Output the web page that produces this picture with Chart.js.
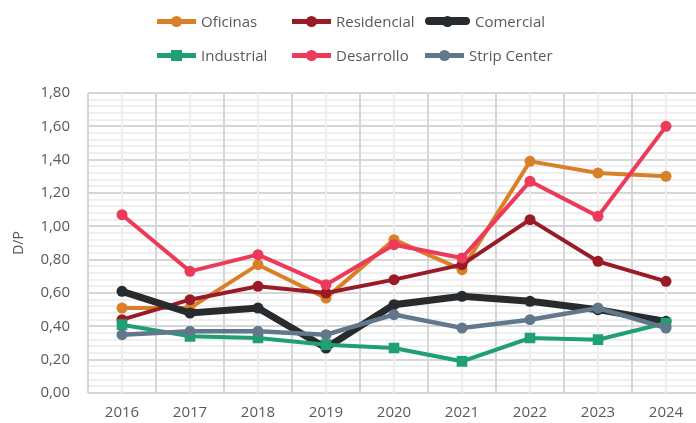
<!DOCTYPE html>
<html>
<head>
<meta charset="utf-8">
<script src="https://cdn.jsdelivr.net/npm/chart.js@4.4.1/dist/chart.umd.min.js"></script>
<style>
    html, body { margin: 0; padding: 0; background: #fff; overflow: hidden; }
    #wrap { position: relative; width: 696px; height: 423px; overflow: hidden; }
    #chart { position: absolute; left: 0; top: 0; }
    #legend { position: absolute; left: 0; top: 0; width: 696px; height: 80px; font-family: "Open Sans", sans-serif; font-size: 15px; color: #595959; }
    .item { position: absolute; display: flex; align-items: center; height: 20px; white-space: nowrap; }
    .sample { position: relative; width: 39px; height: 20px; margin-right: 5px; }
    .sample .ln { position: absolute; left: 0; right: 0; top: 8px; height: 5px; }
    .sample .dot { position: absolute; left: 14px; top: 5px; width: 11px; height: 11px; border-radius: 50%; }
</style>
</head>
<body>
<div id="wrap">
    <canvas id="chart" width="720" height="423"></canvas>
    <div id="legend"></div>
</div>
<script>
const years = ['2016', '2017', '2018', '2019', '2020', '2021', '2022', '2023', '2024'];
const oficinas    = [0.51, 0.51, 0.77, 0.57, 0.92, 0.74, 1.39, 1.32, 1.30];
const residencial = [0.44, 0.56, 0.64, 0.60, 0.68, 0.77, 1.04, 0.79, 0.67];
const comercial   = [0.61, 0.48, 0.51, 0.27, 0.53, 0.58, 0.55, 0.50, 0.43];
const industrial  = [0.41, 0.34, 0.33, 0.29, 0.27, 0.19, 0.33, 0.32, 0.42];
const desarrollo  = [1.07, 0.73, 0.83, 0.65, 0.89, 0.81, 1.27, 1.06, 1.60];
const stripCenter = [0.35, 0.37, 0.37, 0.35, 0.47, 0.39, 0.44, 0.51, 0.39];

const series = [
    { label: 'Oficinas', data: oficinas, color: '#D97F27', width: 4 },
    { label: 'Residencial', data: residencial, color: '#9A1B28', width: 4 },
    { label: 'Comercial', data: comercial, color: '#282B2E', width: 7 },
    { label: 'Industrial', data: industrial, color: '#1F9F73', width: 4, square: true },
    { label: 'Desarrollo', data: desarrollo, color: '#EE3A5A', width: 4 },
    { label: 'Strip Center', data: stripCenter, color: '#61788C', width: 4.5 }
];

const font = { family: '"Open Sans", sans-serif', size: 15 };
const isMajor = v => Math.round(v * 100) % 20 === 0;

// leyenda en dos filas de tres
const legendPos = [[157, 11], [292, 11], [425, 11], [157, 45], [292, 45], [425, 45]];
document.getElementById('legend').innerHTML = series.map((s, i) => `
    <div class="item" style="left:${legendPos[i][0]}px;top:${legendPos[i][1]}px">
        <span class="sample" style="${s.width > 5 ? 'width:45px' : ''}">
            <span class="ln" style="background:${s.color};${s.width > 5 ? 'height:8px;top:6px;border-radius:4px;' : ''}"></span>
            <span class="dot" style="background:${s.color};${s.square ? 'border-radius:0;' : ''}${s.width > 5 ? 'left:17px;' : ''}"></span>
        </span>${s.label}
    </div>`).join('');

new Chart(document.getElementById('chart'), {
    type: 'line',
    data: {
        labels: years,
        datasets: series.map((s, i) => ({
            label: s.label,
            data: s.data,
            borderColor: s.color,
            backgroundColor: s.color,
            borderWidth: s.width,
            pointRadius: s.square ? 7.5 : 5.5,
            pointStyle: s.square ? 'rect' : 'circle',
            pointBorderWidth: 0,
            tension: 0,
            order: series.length - i
        }))
    },
    options: {
        responsive: false,
        animation: false,
        layout: { padding: { top: 93, right: 20, bottom: 0, left: 0 } },
        plugins: { legend: { display: false }, tooltip: { enabled: false } },
        scales: {
            x: {
                offset: true,
                afterFit: scale => { scale.height = 30; },
                grid: { z: 0, offset: true, color: '#d6d6d6', lineWidth: 2, drawTicks: false },
                border: { display: false },
                ticks: { font: font, color: '#595959', padding: 11 }
            },
            x2: {
                position: 'top',
                offset: true,
                grid: { z: 0, offset: false, color: '#eeeeee', lineWidth: 2, drawTicks: false },
                border: { display: false },
                ticks: { display: false }
            },
            y: {
                min: 0,
                max: 1.8,
                afterFit: scale => { scale.width = 88; },
                grid: {
                    z: -1,
                    drawTicks: false,
                    lineWidth: 2,
                    color: ctx => isMajor(ctx.tick.value) ? '#d6d6d6' : '#efefef'
                },
                border: { display: false },
                ticks: {
                    stepSize: 0.04,
                    autoSkip: false,
                    font: font,
                    color: '#595959',
                    padding: 18,
                    callback: v => isMajor(v) ? (Math.round(v * 100) / 100).toFixed(2).replace('.', ',') : ''
                },
                title: { display: true, text: 'D/P', font: { family: '"Open Sans", sans-serif', size: 14 }, color: '#595959', padding: { top: 11 } }
            }
        }
    }
});
</script>
</body>
</html>
